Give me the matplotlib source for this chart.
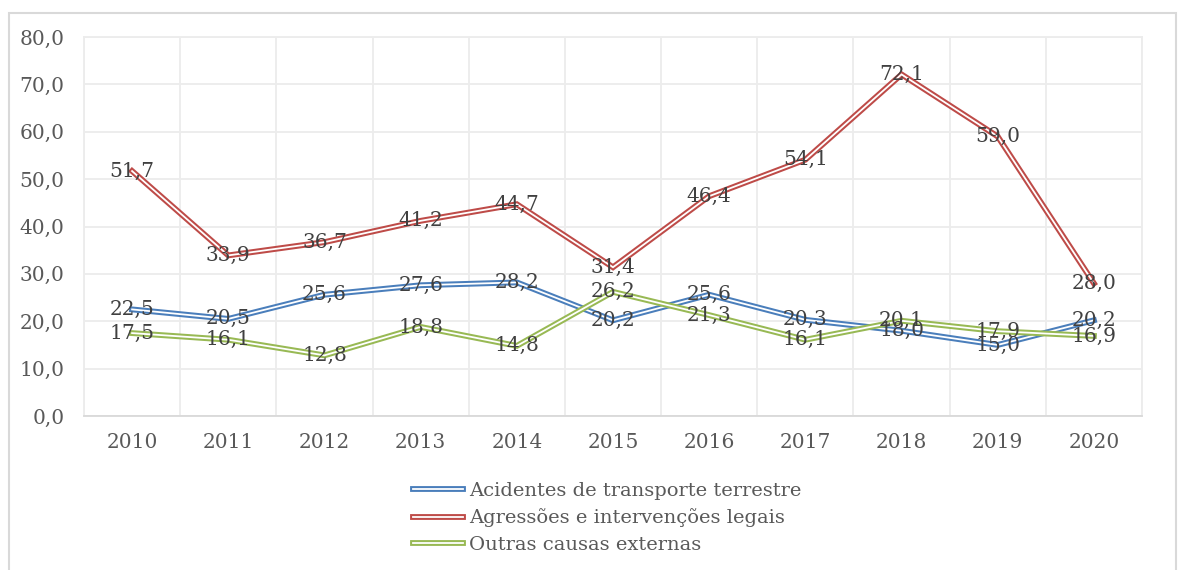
import numpy as np
import matplotlib.pyplot as plt
from matplotlib.patches import Rectangle
from matplotlib.legend_handler import HandlerTuple

plt.rcParams['font.family'] = ['DejaVu Serif']

# yearly rates by group of external causes
anos = ['2010', '2011', '2012', '2013', '2014', '2015', '2016', '2017', '2018', '2019', '2020']
acidentes = [22.5, 20.5, 25.6, 27.6, 28.2, 20.2, 25.6, 20.3, 18.0, 15.0, 20.2]
agressoes = [51.7, 33.9, 36.7, 41.2, 44.7, 31.4, 46.4, 54.1, 72.1, 59.0, 28.0]
outras = [17.5, 16.1, 12.8, 18.8, 14.8, 26.2, 21.3, 16.1, 20.1, 17.9, 16.9]

series = [
    ('Acidentes de transporte terrestre', acidentes, '#4a7ebb'),
    ('Agressões e intervenções legais', agressoes, '#be4b48'),
    ('Outras causas externas', outras, '#98b954'),
]

def br(v):
    return f'{v:.1f}'.replace('.', ',')

fs = 14.5

fig = plt.figure(figsize=(11.78, 5.70), dpi=100)
ax = fig.add_axes([84/1178, 1 - 416/570, (1142-84)/1178, (416-37)/570])

# outer chart frame
fig.patches.append(Rectangle((8.5/1178, -0.1), (1176-8.5)/1178, 1.1 - 13.5/570,
                             transform=fig.transFigure, fill=False,
                             edgecolor='#d9d9d9', linewidth=1.5))

x = np.arange(len(anos))
handles = []
for nome, vals, cor in series:
    l1, = ax.plot(x, vals, color=cor, lw=4.2, solid_joinstyle='miter', zorder=3)
    l2, = ax.plot(x, vals, color='white', lw=1.3, solid_joinstyle='miter', zorder=3)
    handles.append(((l1, l2), nome))

for nome, vals, cor in series:
    for xi, v in zip(x, vals):
        ax.text(xi, v, br(v), ha='center', va='center', fontsize=fs,
                color='#404040', zorder=5)

ax.set_xlim(-0.5, len(anos) - 0.5)
ax.set_ylim(0, 80)
ax.set_yticks(np.arange(0, 81, 10))
ax.set_yticklabels([br(v) for v in np.arange(0, 81, 10)])
ax.set_xticks(x)
ax.set_xticklabels(anos)
ax.set_xticks(np.arange(-0.5, len(anos)), minor=True)
ax.tick_params(axis='both', which='both', length=0, labelsize=fs, labelcolor='#595959')
ax.tick_params(axis='y', pad=14)
ax.tick_params(axis='x', pad=12)
ax.grid(axis='y', which='major', color='#ececec', lw=1.3)
ax.grid(axis='x', which='minor', color='#ececec', lw=1.3)
ax.set_axisbelow(True)
for s in ['left', 'top', 'right']:
    ax.spines[s].set_color('#ececec')
    ax.spines[s].set_linewidth(1.3)
ax.spines['bottom'].set_color('#d9d9d9')
ax.spines['bottom'].set_linewidth(1.3)

leg = fig.legend([h for h, _ in handles], [n for _, n in handles],
                 handler_map={tuple: HandlerTuple(ndivide=1)},
                 loc='center', bbox_to_anchor=(607/1178, 1 - 518/570),
                 frameon=False, fontsize=14, handlelength=2.6, handletextpad=0.3,
                 labelspacing=0.45, labelcolor='#595959')

fig.savefig('out.png', dpi=100)
